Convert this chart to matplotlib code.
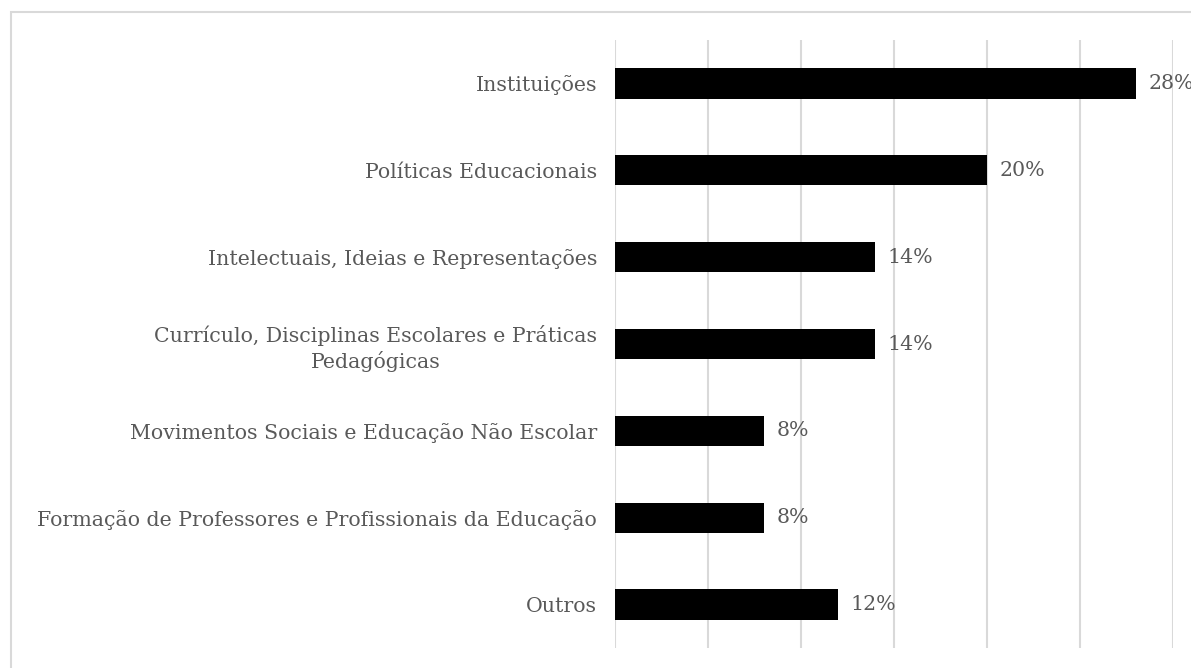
import matplotlib.pyplot as plt
from matplotlib.patches import Rectangle

categorias = [
    "Instituições",
    "Políticas Educacionais",
    "Intelectuais, Ideias e Representações",
    "Currículo, Disciplinas Escolares e Práticas\nPedagógicas",
    "Movimentos Sociais e Educação Não Escolar",
    "Formação de Professores e Profissionais da Educação",
    "Outros",
]
percentuais = [28, 20, 14, 14, 8, 8, 12]
rotulos = ["28%", "20%", "14%", "14%", "8%", "8%", "12%"]

plt.rcParams['font.family'] = ['DejaVu Serif']
cinza = '#595959'
tam = 14.8

fig = plt.figure(figsize=(11.91, 6.68), dpi=100)
ax = fig.add_axes([615 / 1191, 1 - 648 / 668, (1173 - 615) / 1191, (648 - 40) / 668])

pos = list(range(len(categorias)))
ax.barh(pos, percentuais, height=0.35, color='black')
ax.set_ylim(len(categorias) - 0.5, -0.5)
ax.set_xlim(0, 30)
ax.set_xticks(range(0, 31, 5))
ax.set_xticklabels([])
ax.tick_params(axis='x', length=0)
ax.tick_params(axis='y', length=0, pad=13, labelsize=tam, labelcolor=cinza)
ax.set_yticks(pos)
ax.set_yticklabels(categorias, ha='right', multialignment='center', linespacing=1.3)
ax.grid(axis='x', color='#d9d9d9', linewidth=1.5)
ax.set_axisbelow(True)
for s in ax.spines.values():
    s.set_visible(False)

for y, v, r in zip(pos, percentuais, rotulos):
    ax.annotate(r, (v, y), xytext=(9, 0), textcoords='offset points',
                va='center', ha='left', fontsize=tam, color=cinza, annotation_clip=False)

fig.patches.append(Rectangle((11 / 1191, -0.1), 1.2, 1 - 12 / 668 + 0.1,
                             transform=fig.transFigure, fill=False,
                             edgecolor='#d9d9d9', linewidth=1.5))

fig.savefig('out.png', dpi=100)
